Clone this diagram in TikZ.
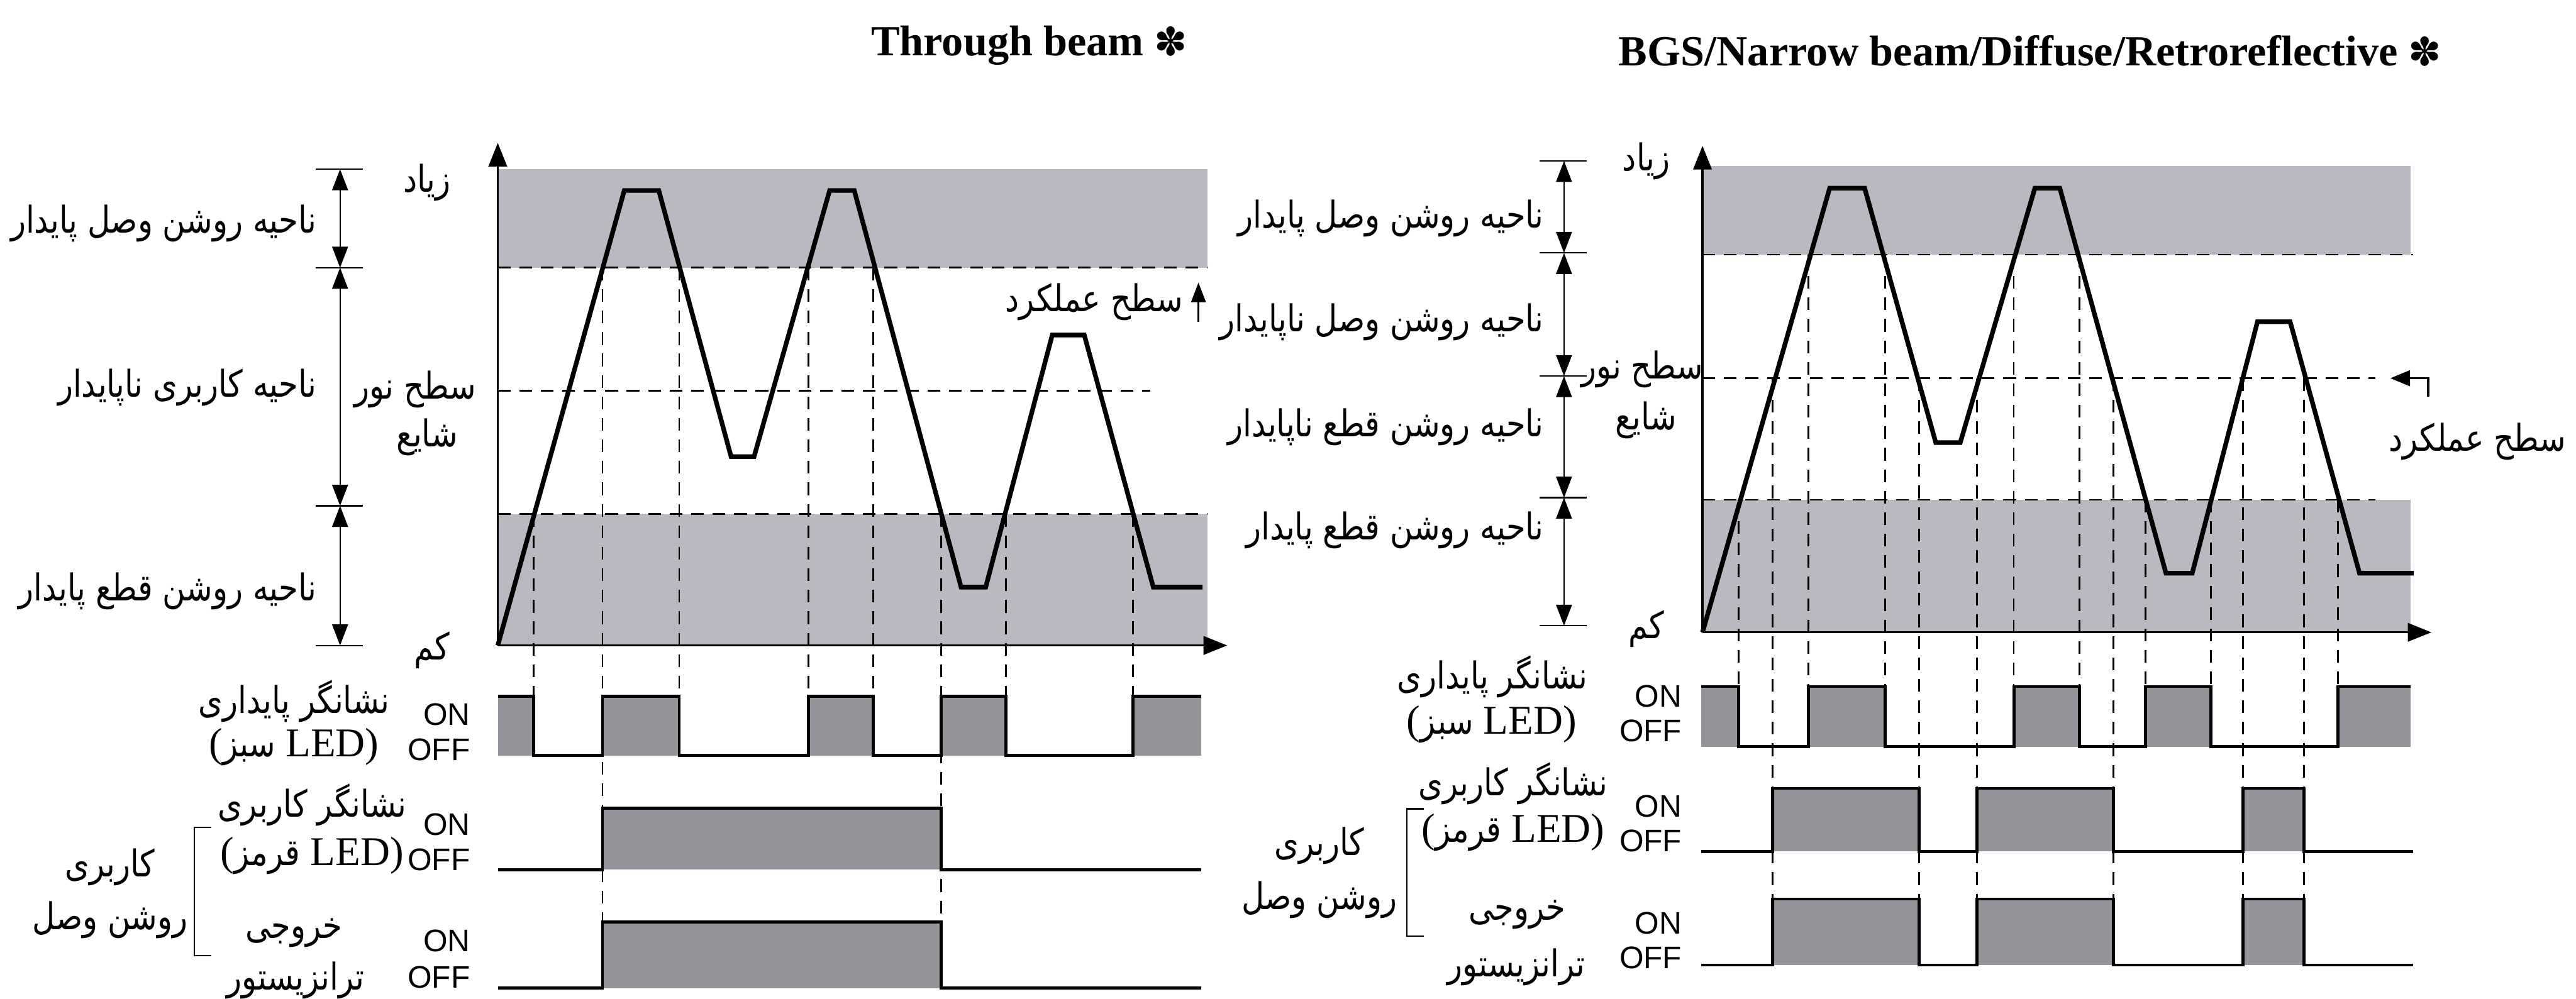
\documentclass[tikz,border=0pt]{standalone}
\usepackage{fontspec}
\setmainfont{Liberation Serif}
\setsansfont{Liberation Sans}
\newfontfamily\farsi[Script=Arabic,FakeStretch=0.845]{DejaVu Sans}
\newfontfamily\dingfont{DejaVu Sans}
\TeXXeTstate=1
\usetikzlibrary{arrows.meta}

\definecolor{bandgray}{HTML}{BAB9C2}
\definecolor{pulsegray}{HTML}{94939A}

\newcommand{\fasize}{\fontsize{16}{19}\selectfont}
\newcommand{\fa}[1]{{\farsi\fasize\beginR #1\endR}}

\tikzset{
  fa/.style={inner sep=0pt, font=\farsi\fasize},
  onoff/.style={inner sep=0pt, anchor=east, font=\sffamily\fontsize{13.5}{15}\selectfont},
  led/.style={inner sep=0pt, font=\rmfamily\fontsize{17.7}{20}\selectfont},
  title/.style={inner sep=0pt, anchor=base west, font=\rmfamily\bfseries\fontsize{18.6}{22}\selectfont},
  band/.style={fill=bandgray},
  level/.style={line width=0.75pt, dash pattern=on 5.5pt off 3.8pt},
  wave/.style={line width=2pt, line join=miter},
  axis/.style={line width=0.9pt, -{Triangle[length=0.36cm,width=0.28cm]}},
  dim/.style={line width=0.6pt, {Triangle[length=0.32cm,width=0.24cm]}-{Triangle[length=0.32cm,width=0.24cm]}},
  tick/.style={line width=0.6pt},
  pulse/.style={line width=1.3pt},
}

\begin{document}
\begin{tikzpicture}[x=0.025cm,y=-0.025cm]
  \useasboundingbox (0,0) rectangle (1568,608);

  %%%%%%%%%% THROUGH BEAM %%%%%%%%%%
  \node[title] (tbTitle) at (530,34) {Through beam {\dingfont\mdseries\fontsize{17}{18}\selectfont ✽}};

  % stable zones
  \fill[band] (303,103) rectangle (735,163);
  \fill[band] (303,313) rectangle (735,393);
  \draw[level] (303,163) -- (735,163);
  \draw[level] (303,313) -- (735,313);
  \draw[level] (303,238) -- (700,238);

  \draw[axis] (303,393) -- (303,87);
  \draw[axis] (303,393) -- (747,393);

  % received light
  \draw[wave] (303,393) -- (380,116) -- (401,116) -- (445,278) -- (459,278) -- (505,116) -- (520,116)
    -- (585,357.5) -- (600,357.5) -- (640.5,204) -- (660,204) -- (702,357.5) -- (732,357.5);

  % drop lines
  \foreach \x/\y in {324.8/313, 413.4/163, 492/163, 531.5/163, 612.3/313, 689.7/313}
    \draw[level] (\x,\y) -- (\x,424);
  \foreach \x/\y in {366.7/163, 572.8/313}
    \draw[level] (\x,\y) -- (\x,561.5);

  % stability LED
  \foreach \a/\b in {303/324.8, 366.7/413.4, 492/531.5, 572.8/612.3, 689.7/731}
    \fill[pulsegray] (\a,424) rectangle (\b,460);
  \draw[pulse] (303,424) -- (324.8,424) -- (324.8,460) -- (366.7,460) -- (366.7,424) -- (413.4,424)
    -- (413.4,460) -- (492,460) -- (492,424) -- (531.5,424) -- (531.5,460) -- (572.8,460)
    -- (572.8,424) -- (612.3,424) -- (612.3,460) -- (689.7,460) -- (689.7,424) -- (731,424);

  % operation LED and output
  \fill[pulsegray] (366.7,492) rectangle (572.8,529.5);
  \draw[pulse] (303,529.5) -- (366.7,529.5) -- (366.7,492) -- (572.8,492) -- (572.8,529.5) -- (731,529.5);
  \fill[pulsegray] (366.7,561.5) rectangle (572.8,601.7);
  \draw[pulse] (303,601.7) -- (366.7,601.7) -- (366.7,561.5) -- (572.8,561.5) -- (572.8,601.7) -- (731,601.7);

  % zone dimensions
  \foreach \y in {103,163,308,393}
    \draw[tick] (192,\y) -- (221,\y);
  \draw[dim] (207,103) -- (207,163);
  \draw[dim] (207,163) -- (207,308);
  \draw[dim] (207,308) -- (207,393);

  \node[fa, anchor=east] (tbZ1) at (193,136) {\fa{ناحیه روشن وصل پایدار}};
  \node[fa, anchor=east] (tbZ2) at (193,236) {\fa{ناحیه کاربری ناپایدار}};
  \node[fa, anchor=east] (tbZ3) at (193,360) {\fa{ناحیه روشن قطع پایدار}};

  \node[fa] (tbHigh) at (260,111) {\fa{زیاد}};
  \node[fa] (tbLow) at (263,396) {\fa{کم}};
  \node[fa, anchor=east] (tbDiff) at (290,237) {\fa{سطح نور}};
  \node[fa] (tbDiffB) at (260,266) {\fa{شایع}};

  \node[fa] (tbOper) at (666,184) {\fa{سطح عملکرد}};
  \draw[line width=0.9pt, -{Triangle[length=0.3cm,width=0.22cm]}] (729.5,196) -- (729.5,172);

  \node[fa] (tbLedA) at (179,427) {\fa{نشانگر پایداری}};
  \node[led] (tbLedB) at (179,455) {({\farsi\fasize سبز} LED)};
  \node[fa] (tbLedC) at (190,490) {\fa{نشانگر کاربری}};
  \node[led] (tbLedD) at (190,521) {({\farsi\fasize قرمز} LED)};
  \node[fa] (tbOutA) at (179,568) {\fa{خروجی}};
  \node[fa] (tbOutB) at (180,597) {\fa{ترانزیستور}};

  \node[onoff] (tbOn1) at (286.4,435) {ON};
  \node[onoff] (tbOff1) at (286.4,456.5) {OFF};
  \node[onoff] (tbOn2) at (286.4,502) {ON};
  \node[onoff] (tbOff2) at (286.4,523.5) {OFF};
  \node[onoff] (tbOn3) at (286.4,573) {ON};
  \node[onoff] (tbOff3) at (286.4,595) {OFF};

  \draw[tick] (128.5,503.7) -- (118.4,503.7) -- (118.4,581.9) -- (128.5,581.9);
  \node[fa] (tbModeA) at (67,528) {\fa{کاربری}};
  \node[fa] (tbModeB) at (67,560) {\fa{روشن وصل}};

  %%%%%%%%%% BGS / NARROW / DIFFUSE / RETRO %%%%%%%%%%
  \node[title] (bgTitle) at (985,40) {BGS/Narrow beam/Diffuse/Retroreflective {\dingfont\mdseries\fontsize{17}{18}\selectfont ✽}};

  \fill[band] (1036.3,101) rectangle (1467.4,155);
  \fill[band] (1036.3,304.3) rectangle (1467.4,385);
  \draw[level] (1036.3,155) -- (1469,155);
  \draw[level] (1036.3,304.3) -- (1446,304.3);
  \draw[level] (1036.3,230.3) -- (1446,230.3);

  \draw[axis] (1036.3,385) -- (1036.3,88.8);
  \draw[axis] (1036.3,385) -- (1480,385);

  \draw[wave] (1036.3,385) -- (1113.7,114.6) -- (1135,114.6) -- (1178.3,269.5) -- (1193.2,269.5)
    -- (1238.6,114.6) -- (1253.8,114.6) -- (1318.4,349) -- (1334.4,349) -- (1374.1,195.9)
    -- (1394,195.9) -- (1436.2,349) -- (1469.2,349);

  \foreach \x/\y in {1058.3/304.3, 1100.9/155, 1147.4/155, 1225.8/155, 1265.9/155, 1306/304.3, 1345.7/304.3, 1423.1/304.3}
    \draw[level] (\x,\y) -- (\x,418);
  \foreach \x in {1078.9, 1168, 1203.4, 1286.5, 1365.2, 1402.5}
    \draw[level] (\x,230.3) -- (\x,547.4);

  \foreach \a/\b in {1035.5/1058.3, 1100.9/1147.4, 1225.8/1265.9, 1306/1345.7, 1423.1/1467.4}
    \fill[pulsegray] (\a,418) rectangle (\b,454.7);
  \draw[pulse] (1035.5,418) -- (1058.3,418) -- (1058.3,454.7) -- (1100.9,454.7) -- (1100.9,418)
    -- (1147.4,418) -- (1147.4,454.7) -- (1225.8,454.7) -- (1225.8,418) -- (1265.9,418)
    -- (1265.9,454.7) -- (1306,454.7) -- (1306,418) -- (1345.7,418) -- (1345.7,454.7)
    -- (1423.1,454.7) -- (1423.1,418) -- (1467.4,418);

  \foreach \a/\b in {1078.9/1168, 1203.4/1286.5, 1365.2/1402.5} {
    \fill[pulsegray] (\a,480) rectangle (\b,518.5);
    \fill[pulsegray] (\a,547.4) rectangle (\b,587.6);
  }
  \draw[pulse] (1035.5,518.5) -- (1078.9,518.5) -- (1078.9,480) -- (1168,480) -- (1168,518.5)
    -- (1203.4,518.5) -- (1203.4,480) -- (1286.5,480) -- (1286.5,518.5) -- (1365.2,518.5)
    -- (1365.2,480) -- (1402.5,480) -- (1402.5,518.5) -- (1469,518.5);
  \draw[pulse] (1035.5,587.6) -- (1078.9,587.6) -- (1078.9,547.4) -- (1168,547.4) -- (1168,587.6)
    -- (1203.4,587.6) -- (1203.4,547.4) -- (1286.5,547.4) -- (1286.5,587.6) -- (1365.2,587.6)
    -- (1365.2,547.4) -- (1402.5,547.4) -- (1402.5,587.6) -- (1469,587.6);

  % operation level marker
  \draw[line width=0.9pt, -{Triangle[length=0.3cm,width=0.24cm]}] (1478,241.5) -- (1478,230.3) -- (1455,230.3);
  \node[fa] (bgOper) at (1508,269) {\fa{سطح عملکرد}};

  \foreach \y in {98,154,229,303,381}
    \draw[tick] (937,\y) -- (966,\y);
  \draw[dim] (952,98) -- (952,154);
  \draw[dim] (952,154) -- (952,229);
  \draw[dim] (952,229) -- (952,303);
  \draw[dim] (952,303) -- (952,381);

  \node[fa, anchor=east] (bgZ1) at (940,133) {\fa{ناحیه روشن وصل پایدار}};
  \node[fa, anchor=east] (bgZ2) at (940,196) {\fa{ناحیه روشن وصل ناپایدار}};
  \node[fa, anchor=east] (bgZ3) at (940,260) {\fa{ناحیه روشن قطع ناپایدار}};
  \node[fa, anchor=east] (bgZ4) at (940,323) {\fa{ناحیه روشن قطع پایدار}};

  \node[fa] (bgHigh) at (1002,98) {\fa{زیاد}};
  \node[fa] (bgLow) at (1002,383) {\fa{کم}};
  \node[fa, anchor=east] (bgDiff) at (1037,225) {\fa{سطح نور}};
  \node[fa] (bgDiffB) at (1002,256) {\fa{شایع}};

  \node[fa] (bgLedA) at (908.5,412) {\fa{نشانگر پایداری}};
  \node[led] (bgLedB) at (908,441) {({\farsi\fasize سبز} LED)};
  \node[fa] (bgLedC) at (921,477) {\fa{نشانگر کاربری}};
  \node[led] (bgLedD) at (921,507) {({\farsi\fasize قرمز} LED)};
  \node[fa] (bgOutA) at (923.5,557) {\fa{خروجی}};
  \node[fa] (bgOutB) at (923,589) {\fa{ترانزیستور}};

  \node[onoff] (bgOn1) at (1024,424) {ON};
  \node[onoff] (bgOff1) at (1024,445) {OFF};
  \node[onoff] (bgOn2) at (1024,491) {ON};
  \node[onoff] (bgOff2) at (1024,512) {OFF};
  \node[onoff] (bgOn3) at (1024,562) {ON};
  \node[onoff] (bgOff3) at (1024,583) {OFF};

  \draw[tick] (866.5,492.5) -- (856.4,492.5) -- (856.4,570) -- (866.5,570);
  \node[fa] (bgModeA) at (803,515) {\fa{کاربری}};
  \node[fa] (bgModeB) at (803,548) {\fa{روشن وصل}};
\end{tikzpicture}
\end{document}
